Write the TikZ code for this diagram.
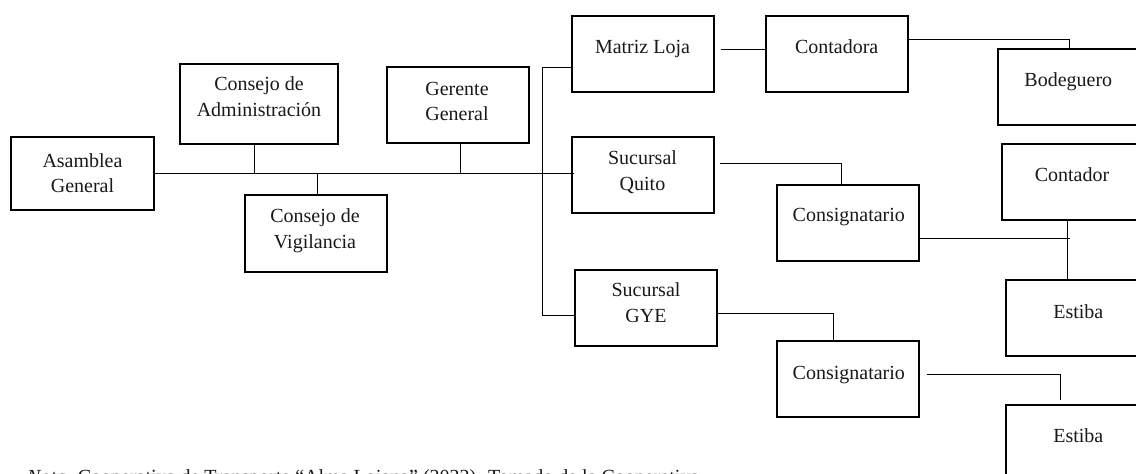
\documentclass[tikz,border=0pt]{standalone}
\usepackage{fontspec}
\setmainfont{Liberation Serif}
\begin{document}
\begin{tikzpicture}[x=1pt,y=-1pt,
  box/.style={draw=black,line width=1.2pt,minimum width=142pt,minimum height=76pt,inner sep=0pt,fill=white},
  lbl/.style={font=\fontsize{20}{25}\selectfont,inner sep=0pt,anchor=base,text=black!90},
  conn/.style={draw=black,line width=1pt}]
\useasboundingbox (0,0) rectangle (1136,474);
\clip (0,0) rectangle (1136,474);
\fill[white] (0,0) rectangle (1136,474);
% connectors first
\node[box,minimum width=143pt,minimum height=73pt] (asamblea) at (82.5,173.5) {};
\node[box,minimum width=158pt,minimum height=80pt] (cadm) at (259,104) {};
\node[box,minimum height=77pt] (cvig) at (316,233.5) {};
\node[box] (gerente) at (458,105) {};
\node[box] (matriz) at (643,54) {};
\node[box] (quito) at (643,175) {};
\node[box] (gye) at (646,308) {};
\node[box] (contadora) at (837,54) {};
\node[box] (bodeguero) at (1069,87) {};
\node[box] (contador) at (1073,182) {};
\node[box] (consig1) at (848,223) {};
\node[box] (estiba1) at (1077,318) {};
\node[box] (consig2) at (848,379) {};
\node[box] (estiba2) at (1077,443) {};
% connectors
\draw[conn] (asamblea.east) -- ([xshift=3pt]asamblea.east -| quito.west);
\draw[conn] ([xshift=-5pt]cadm.south) -- ([xshift=-5pt]cadm.south |- asamblea.east);
\draw[conn] ([xshift=1pt]cvig.north) -- ([xshift=1pt]cvig.north |- asamblea.east);
\draw[conn] ([xshift=2pt]gerente.south) -- ([xshift=2pt]gerente.south |- asamblea.east);
\draw[conn] ([yshift=-13pt]matriz.west) -- ++(-29,0) |- ([yshift=-7pt]gye.west);
\draw[conn] ([shift={(6pt,5pt)}]matriz.east) -- ([yshift=5pt]contadora.west);
\draw[conn] ([yshift=15pt]contadora.east) -| (bodeguero.north);
\draw[conn] ([shift={(5pt,12pt)}]quito.east) -| ([xshift=-7pt]consig1.north);
\coordinate (j1) at (1070,238);
\draw[conn] ([yshift=-15pt]consig1.east) -- (j1);
\draw[conn] ([xshift=-6pt]contador.south) -- ([xshift=-6pt]contador.south |- estiba1.north);
\draw[conn] ([yshift=-5pt]gye.east) -| ([xshift=-15pt]consig2.north);
\draw[conn] ([shift={(7pt,5pt)}]consig2.east) -| ([shift={(-17pt,4pt)}]estiba2.north);
% labels
\node[lbl] at (82.5,167) {Asamblea};
\node[lbl] at (82.5,192) {General};
\node[lbl] at (259,90.5) {Consejo de};
\node[lbl] at (259,116.5) {Administración};
\node[lbl] at (315,222.5) {Consejo de};
\node[lbl] at (315,248) {Vigilancia};
\node[lbl] at (457,95) {Gerente};
\node[lbl] at (457,120) {General};
\node[lbl] at (642.5,53.3) {Matriz Loja};
\node[lbl] at (642.5,164) {Sucursal};
\node[lbl] at (642.5,190) {Quito};
\node[lbl] at (646,296.7) {Sucursal};
\node[lbl] at (646,322.7) {GYE};
\node[lbl] at (836.7,53.3) {Contadora};
\node[lbl] at (1068.3,86) {Bodeguero};
\node[lbl] at (1072,181.7) {Contador};
\node[lbl] at (848.8,221.7) {Consignatario};
\node[lbl] at (1078.3,318.3) {Estiba};
\node[lbl] at (848.8,379.3) {Consignatario};
\node[lbl] at (1078.3,442.7) {Estiba};
\node[lbl,anchor=base west] (nota) at (27,483.5) {\textit{Nota.} Cooperativa de Transporte “Alma Lojana” (2022). Tomado de la Cooperativa};
\end{tikzpicture}
\end{document}
